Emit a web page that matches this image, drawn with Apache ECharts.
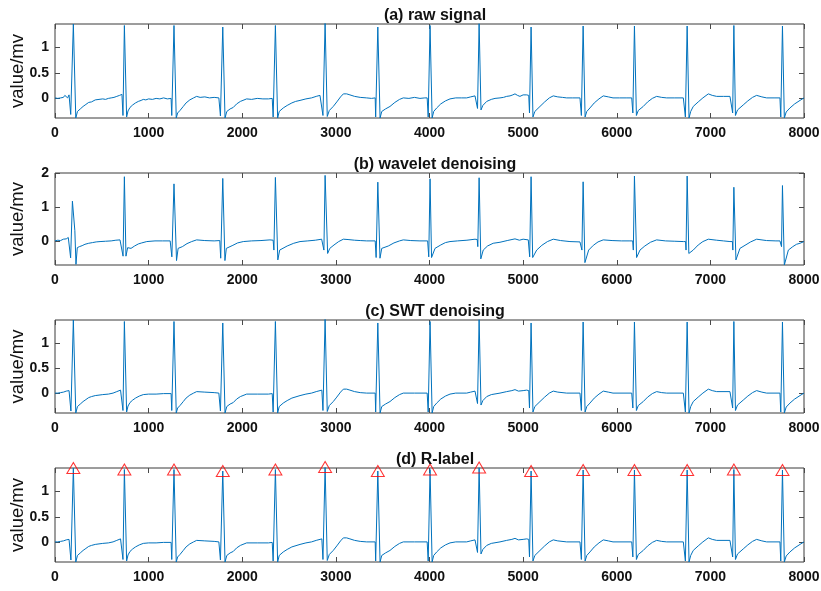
<!DOCTYPE html>
<html>
<head>
<meta charset="utf-8">
<script src="https://cdn.jsdelivr.net/npm/echarts@6/dist/echarts.min.js"></script>
<style>html,body{margin:0;padding:0;background:#fff}#c{width:821px;height:591px}</style>
</head>
<body>
<div id="c"></div>
<script>
const titles = ['(a) raw signal', '(b) wavelet denoising', '(c) SWT denoising', '(d) R-label'];
const xTicks = [0, 1000, 2000, 3000, 4000, 5000, 6000, 7000, 8000];
const yTicksA = [0, 0.5, 1];
const yTicksB = [0, 1, 2];
const yRangeA = [-0.4, 1.47];
const yRangeB = [-0.71, 2.0];

const rawSignal = [
[0,0.0],[15,0.02],[30,-0.01],[45,0.02],[60,0.0],[75,0.03],[90,0.01],[105,0.05],[120,0.04],[135,0.0],[150,0.06],[160,0.04],[168,-0.33],[172,-0.36],[196,1.47],[222,-0.4],
[240,-0.27],[255,-0.24],[270,-0.22],[285,-0.19],[300,-0.17],[315,-0.14],[330,-0.13],[345,-0.1],[360,-0.09],[375,-0.06],[390,-0.08],[410,-0.05],[430,-0.04],[450,-0.06],[470,-0.03],[490,-0.04],[510,-0.02],[540,-0.03],[570,-0.01],[600,0.0],[630,0.01],[660,0.03],[690,0.05],[705,0.04],[715,0.07],
[726,-0.35],[741,1.44],[765,-0.38],[780,-0.26],[801,-0.19],[830,-0.14],[860,-0.1],[890,-0.07],[920,-0.05],[943,-0.03],[970,-0.04],[1000,-0.02],[1040,-0.03],[1080,-0.01],[1120,-0.02],[1160,0.0],[1200,-0.02],[1240,-0.01],
[1247,-0.35],[1271,1.44],[1295,-0.4],[1310,-0.3],[1335,-0.25],[1370,-0.17],[1400,-0.1],[1440,-0.04],[1480,0.0],[1513,0.03],[1550,0.01],[1600,0.02],[1650,0.0],[1700,0.01],[1750,0.0],
[1767,-0.36],[1792,1.41],[1816,-0.4],[1835,-0.27],[1870,-0.22],[1904,-0.19],[1940,-0.12],[1980,-0.07],[2047,-0.02],[2100,-0.03],[2160,-0.01],[2220,-0.02],[2280,-0.02],[2320,-0.01],
[2330,-0.38],[2354,1.44],[2378,-0.4],[2395,-0.27],[2438,-0.2],[2480,-0.15],[2530,-0.1],[2570,-0.07],[2617,-0.05],[2680,-0.02],[2740,0.0],[2790,0.03],[2830,0.05],[2850,0.06],
[2862,-0.35],[2885,1.49],[2908,-0.37],[2930,-0.25],[2972,-0.17],[3010,-0.08],[3050,0.02],[3080,0.08],[3115,0.08],[3150,0.06],[3200,0.03],[3260,0.01],[3329,0.0],[3380,-0.01],[3420,0.0],
[3425,-0.38],[3448,1.41],[3472,-0.4],[3490,-0.27],[3530,-0.22],[3578,-0.17],[3630,-0.09],[3680,-0.03],[3720,0.0],[3780,-0.01],[3840,0.01],[3898,-0.01],[3950,0.0],[3975,0.0],
[3986,-0.38],[4006,1.44],[4028,-0.4],[4045,-0.27],[4077,-0.2],[4120,-0.12],[4170,-0.06],[4219,-0.02],[4280,0.0],[4340,0.0],[4397,0.0],[4440,0.02],[4486,0.04],[4505,0.05],
[4513,-0.21],[4530,1.48],[4550,-0.24],[4570,-0.15],[4611,-0.07],[4660,-0.03],[4700,-0.01],[4753,0.0],[4790,0.01],[4824,0.03],[4860,0.04],[4890,0.06],[4913,0.08],[4940,0.05],[4966,0.03],[5000,0.06],[5038,0.06],[5060,0.05],
[5068,-0.3],[5085,1.41],[5105,-0.38],[5125,-0.27],[5180,-0.17],[5230,-0.08],[5280,0.0],[5322,0.04],[5370,0.02],[5420,0.01],[5465,0.0],[5530,0.0],[5607,0.0],
[5622,-0.35],[5641,1.43],[5662,-0.38],[5680,-0.27],[5714,-0.2],[5760,-0.1],[5810,-0.02],[5856,0.04],[5910,0.02],[5960,0.0],[6030,0.0],[6100,0.0],[6160,0.0],
[6172,-0.3],[6189,1.43],[6210,-0.35],[6230,-0.25],[6283,-0.17],[6330,-0.08],[6380,-0.01],[6426,0.03],[6480,0.01],[6533,0.0],[6620,0.0],[6711,0.0],
[6733,-0.38],[6752,1.43],[6772,-0.4],[6790,-0.27],[6817,-0.17],[6870,-0.08],[6920,0.0],[6978,0.08],[7020,0.05],[7067,0.03],[7140,0.03],[7209,0.03],[7230,0.02],
[7238,-0.3],[7251,1.44],[7268,-0.35],[7290,-0.24],[7351,-0.14],[7400,-0.06],[7450,0.01],[7494,0.05],[7550,0.02],[7601,0.0],[7680,0.0],[7743,0.0],
[7752,-0.38],[7770,1.43],[7790,-0.4],[7810,-0.28],[7850,-0.2],[7900,-0.12],[7957,-0.05],[8000,0.0]
];

const waveletSignal = [
[0,0.0],[30,0.02],[60,0.01],[89,0.05],[120,0.06],[142,0.1],[152,0.08],[167,-0.5],[186,1.17],[196,1.12],[203,1.15],[212,0.3],[224,-0.69],[238,-0.2],[260,-0.17],[290,-0.14],[320,-0.1],[360,-0.07],[400,-0.05],[440,-0.03],[481,-0.02],[540,-0.01],[600,0.0],[650,0.02],[694,0.03],[712,0.08],
[727,-0.45],[741,1.89],[758,-0.45],[776,-0.2],[812,-0.22],[850,-0.15],[890,-0.09],[926,-0.06],[980,-0.02],[1068,0.0],[1150,0.0],[1230,0.0],
[1248,-0.47],[1271,1.68],[1298,-0.58],[1315,-0.22],[1360,-0.17],[1410,-0.08],[1460,-0.02],[1513,0.03],[1600,0.01],[1700,0.0],[1760,0.01],
[1770,-0.51],[1792,1.84],[1815,-0.58],[1830,-0.22],[1850,-0.22],[1900,-0.13],[1950,-0.06],[2011,-0.02],[2100,0.0],[2200,0.01],[2296,0.03],[2330,0.02],
[2338,-0.27],[2354,1.87],[2380,-0.56],[2400,-0.27],[2420,-0.25],[2480,-0.15],[2550,-0.07],[2617,-0.02],[2700,0.0],[2780,0.02],[2848,0.05],[2865,0.04],
[2872,-0.27],[2885,1.93],[2912,-0.37],[2935,-0.22],[2980,-0.12],[3030,-0.02],[3080,0.05],[3130,0.04],[3200,0.02],[3260,0.01],[3329,0.0],[3420,0.0],
[3430,-0.49],[3448,1.73],[3471,-0.51],[3490,-0.22],[3507,-0.22],[3560,-0.15],[3620,-0.06],[3680,0.0],[3720,0.03],[3800,0.01],[3898,0.0],[3980,0.0],
[3992,-0.47],[4006,1.83],[4022,-0.49],[4059,-0.22],[4120,-0.12],[4170,-0.05],[4219,-0.02],[4300,0.0],[4400,0.02],[4486,0.05],[4510,0.04],
[4516,-0.17],[4530,1.86],[4548,-0.53],[4574,-0.27],[4620,-0.15],[4680,-0.07],[4753,-0.04],[4830,0.01],[4913,0.06],[4960,0.02],[5000,0.05],[5055,0.03],
[5070,-0.47],[5085,1.89],[5102,-0.49],[5145,-0.27],[5200,-0.13],[5260,-0.02],[5322,0.05],[5400,0.01],[5500,-0.02],[5607,-0.03],[5625,-0.02],
[5628,-0.27],[5641,1.74],[5660,-0.64],[5700,-0.27],[5750,-0.13],[5800,-0.03],[5856,0.03],[5950,0.01],[6050,0.0],[6141,0.0],[6170,0.0],
[6177,-0.27],[6189,1.91],[6212,-0.49],[6248,-0.27],[6300,-0.15],[6360,-0.04],[6426,0.03],[6520,0.0],[6620,-0.01],[6711,-0.02],[6735,-0.02],
[6740,-0.27],[6752,1.91],[6770,-0.37],[6817,-0.27],[6870,-0.12],[6920,-0.02],[6978,0.05],[7067,0.02],[7140,0.0],[7209,-0.02],[7235,-0.02],
[7240,-0.27],[7251,1.58],[7273,-0.56],[7316,-0.22],[7370,-0.13],[7430,-0.03],[7494,0.05],[7600,0.01],[7700,0.0],[7743,0.0],[7755,0.0],
[7760,-0.17],[7770,1.63],[7790,-0.71],[7833,-0.27],[7880,-0.17],[7920,-0.1],[7957,-0.07],[8000,-0.02]
];

const swtSignal = [
[0,0.0],[30,0.0],[60,0.01],[90,0.02],[120,0.04],[150,0.05],[160,0.04],[170,-0.36],[196,1.47],[222,-0.4],
[240,-0.27],[270,-0.22],[300,-0.17],[330,-0.13],[360,-0.09],[390,-0.07],[430,-0.05],[470,-0.04],[510,-0.03],[570,-0.02],[620,0.0],[660,0.03],[700,0.06],[715,0.07],
[726,-0.35],[741,1.44],[765,-0.38],[780,-0.26],[801,-0.19],[830,-0.14],[860,-0.1],[900,-0.06],[943,-0.03],[1000,-0.02],[1080,-0.02],[1160,-0.01],[1240,-0.01],
[1247,-0.35],[1271,1.44],[1295,-0.4],[1310,-0.3],[1335,-0.25],[1370,-0.17],[1400,-0.1],[1440,-0.04],[1480,0.0],[1513,0.03],[1600,0.02],[1700,0.01],[1750,0.0],
[1767,-0.36],[1792,1.41],[1816,-0.4],[1835,-0.27],[1870,-0.22],[1904,-0.19],[1940,-0.12],[1980,-0.07],[2047,-0.02],[2160,-0.02],[2280,-0.02],[2320,-0.01],
[2330,-0.38],[2354,1.44],[2378,-0.4],[2395,-0.27],[2438,-0.2],[2480,-0.15],[2530,-0.1],[2617,-0.05],[2680,-0.02],[2740,0.0],[2790,0.03],[2850,0.06],
[2862,-0.35],[2885,1.49],[2908,-0.37],[2930,-0.25],[2972,-0.17],[3010,-0.08],[3050,0.02],[3080,0.08],[3115,0.08],[3150,0.06],[3200,0.03],[3260,0.01],[3329,0.0],[3420,0.0],
[3425,-0.38],[3448,1.41],[3472,-0.4],[3490,-0.27],[3530,-0.22],[3578,-0.17],[3630,-0.09],[3680,-0.03],[3720,0.0],[3840,0.0],[3975,0.0],
[3986,-0.38],[4006,1.44],[4028,-0.4],[4045,-0.27],[4077,-0.2],[4120,-0.12],[4170,-0.06],[4219,-0.02],[4280,0.0],[4397,0.0],[4440,0.02],[4486,0.04],[4505,0.05],
[4513,-0.21],[4530,1.48],[4550,-0.24],[4570,-0.15],[4611,-0.07],[4660,-0.03],[4753,0.0],[4824,0.03],[4880,0.05],[4913,0.07],[4950,0.04],[4966,0.03],[5000,0.05],[5038,0.06],[5060,0.05],
[5068,-0.3],[5085,1.41],[5105,-0.38],[5125,-0.27],[5180,-0.17],[5230,-0.08],[5280,0.0],[5322,0.04],[5370,0.02],[5465,0.0],[5607,0.0],
[5622,-0.35],[5641,1.43],[5662,-0.38],[5680,-0.27],[5714,-0.2],[5760,-0.1],[5810,-0.02],[5856,0.04],[5910,0.02],[5960,0.0],[6160,0.0],
[6172,-0.3],[6189,1.43],[6210,-0.35],[6230,-0.25],[6283,-0.17],[6330,-0.08],[6380,-0.01],[6426,0.03],[6480,0.01],[6533,0.0],[6711,0.0],
[6733,-0.38],[6752,1.43],[6772,-0.4],[6790,-0.27],[6817,-0.17],[6870,-0.08],[6920,0.0],[6978,0.08],[7020,0.05],[7067,0.03],[7209,0.03],[7230,0.02],
[7238,-0.3],[7251,1.44],[7268,-0.35],[7290,-0.24],[7351,-0.14],[7400,-0.06],[7450,0.01],[7494,0.05],[7550,0.02],[7601,0.0],[7743,0.0],
[7752,-0.38],[7770,1.43],[7790,-0.4],[7810,-0.28],[7850,-0.2],[7900,-0.12],[7957,-0.05],[8000,0.0]
];

const rPeaks = [
[196,1.47],[741,1.44],[1271,1.44],[1792,1.41],[2354,1.44],[2885,1.49],[3448,1.41],[4006,1.44],
[4530,1.48],[5085,1.41],[5641,1.43],[6189,1.43],[6752,1.43],[7251,1.44],[7770,1.43]
];

const gridTops = [24, 173, 320, 468];
const gridHeights = [94, 92, 93, 94];
const yRanges = [yRangeA, yRangeB, yRangeA, yRangeA];
const yTickSets = [yTicksA, yTicksB, yTicksA, yTicksA];
const signals = [rawSignal, waveletSignal, swtSignal, swtSignal];

const FONT = 'Liberation Sans, Arial, sans-serif';
const tickStyle = {color: '#4a4a4a', width: 1};
const plain = v => String(v);

const grid = [], xAxis = [], yAxis = [], series = [], title = [];
for (let i = 0; i < 4; i++) {
  grid.push({left: 55, right: 17, top: gridTops[i], height: gridHeights[i], show: true,
    containLabel: false, outerBoundsMode: 'none',
    borderColor: '#3a3a3a', borderWidth: 1, backgroundColor: 'transparent'});
  title.push({text: titles[i], left: 430, top: gridTops[i] - 21, textAlign: 'center',
    textStyle: {fontSize: 16, fontWeight: 'bold', color: '#111', fontFamily: FONT}});
  const xBase = {type: 'value', gridIndex: i, min: 0, max: 8000, interval: 1000,
    axisLine: {show: false, onZero: false}, splitLine: {show: false},
    axisTick: {inside: true, length: 5, lineStyle: tickStyle}};
  xAxis.push(Object.assign({}, xBase, {position: 'bottom',
    axisLabel: {fontSize: 14, fontWeight: 'bold', color: '#111', margin: 8, fontFamily: FONT,
      customValues: xTicks, formatter: plain}}));
  xAxis.push(Object.assign({}, xBase, {position: 'top', axisLabel: {show: false}}));
  const yBase = {type: 'value', gridIndex: i, min: yRanges[i][0], max: yRanges[i][1],
    axisLine: {show: false, onZero: false}, splitLine: {show: false},
    axisTick: {inside: true, length: 5, lineStyle: tickStyle, customValues: yTickSets[i]}};
  yAxis.push(Object.assign({}, yBase, {position: 'left',
    name: 'value/mv', nameLocation: 'middle', nameGap: 28, nameMoveOverlap: false,
    nameTextStyle: {fontSize: 18.5, color: '#111', fontFamily: FONT},
    axisLabel: {fontSize: 14, fontWeight: 'bold', color: '#111', margin: 6, fontFamily: FONT,
      customValues: yTickSets[i], formatter: plain}}));
  yAxis.push(Object.assign({}, yBase, {position: 'right', axisLabel: {show: false}}));
  series.push({type: 'line', xAxisIndex: 2 * i, yAxisIndex: 2 * i, data: signals[i],
    showSymbol: false, symbol: 'none', clip: true,
    lineStyle: {color: '#0072BD', width: 1}});
}
series.push({type: 'scatter', xAxisIndex: 6, yAxisIndex: 6, data: rPeaks, clip: false,
  symbol: 'triangle', symbolSize: [13, 11], z: 5,
  itemStyle: {color: 'rgba(0,0,0,0)', borderColor: '#ff0000', borderWidth: 1}});

const chart = echarts.init(document.getElementById('c'), null, {renderer: 'canvas'});
chart.setOption({animation: false, backgroundColor: '#fff', title, grid, xAxis, yAxis, series});
</script>
</body>
</html>
